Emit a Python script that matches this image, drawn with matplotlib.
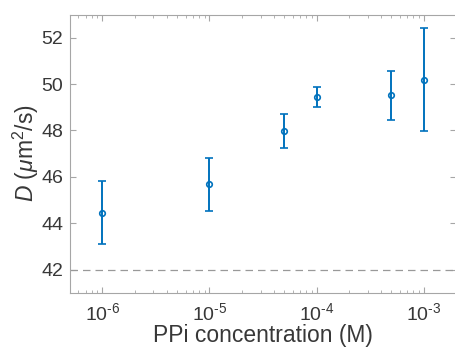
import numpy as np
import matplotlib
matplotlib.use('Agg')
from matplotlib import pyplot as plt
import matplotlib.ticker as ticker

# data
conc = [1e-6, 1e-5, 5e-5, 1e-4, 5e-4, 1e-3]
d_mean = [44.45, 45.68, 47.96, 49.45, 49.52, 50.18]
d_upper = [45.80, 46.82, 48.69, 49.88, 50.58, 52.41]
d_lower = [43.12, 44.52, 47.26, 49.01, 48.46, 47.96]
d_ref = 42

plt.rcParams['font.family'] = ['Liberation Sans', 'DejaVu Sans']
plt.rcParams['mathtext.fontset'] = 'custom'
plt.rcParams['mathtext.rm'] = 'Liberation Sans'
plt.rcParams['mathtext.it'] = 'Liberation Sans:italic'

blue = '#0072BD'
axc = '#a6a6a6'
txt = '#383838'

fig = plt.figure(figsize=(4.55, 3.48), dpi=100)
ax = fig.add_axes([70 / 455, 1 - 292.7 / 348, 386 / 455, (292.7 - 14.5) / 348])

yerr = [np.array(d_mean) - np.array(d_lower), np.array(d_upper) - np.array(d_mean)]
ax.errorbar(conc, d_mean, yerr=yerr, fmt='o', color=blue, mfc='none',
            ms=4, mew=1.2, elinewidth=1.4, capsize=3, capthick=1.4)
ax.axhline(d_ref, color='#999999', ls=(0, (6, 4)), lw=0.9)

ax.set_xscale('log')
ax.set_xlim(5e-7, 2e-3)
ax.set_ylim(41, 53)
ax.yaxis.set_major_locator(ticker.MultipleLocator(2))
ax.xaxis.set_major_locator(ticker.LogLocator(base=10, numticks=10))
ax.xaxis.set_minor_locator(ticker.LogLocator(base=10, subs=np.arange(2, 10), numticks=10))
# MATLAB style exponent with a short hyphen
ax.xaxis.set_major_formatter(ticker.FuncFormatter(
    lambda v, pos: '$10^{\u2010%d}$' % round(-np.log10(v))))

for s in ax.spines.values():
    s.set_color(axc)
    s.set_linewidth(0.8)
ax.tick_params(which='both', direction='in', top=True, right=True,
               color=axc, labelcolor=txt, labelsize=14)
ax.tick_params(which='major', length=4.5, width=0.8)
ax.tick_params(which='minor', length=2.5, width=0.6)
ax.tick_params(axis='y', pad=5)
ax.tick_params(axis='x', pad=7)

ax.set_xlabel('PPi concentration (M)', fontsize=16.5, color=txt, labelpad=0)
ax.set_ylabel(r'$D$ ($\mu$m$^2$/s)', fontsize=16.5, color=txt, labelpad=0)

fig.savefig('out.png', dpi=100)
plt.close()
